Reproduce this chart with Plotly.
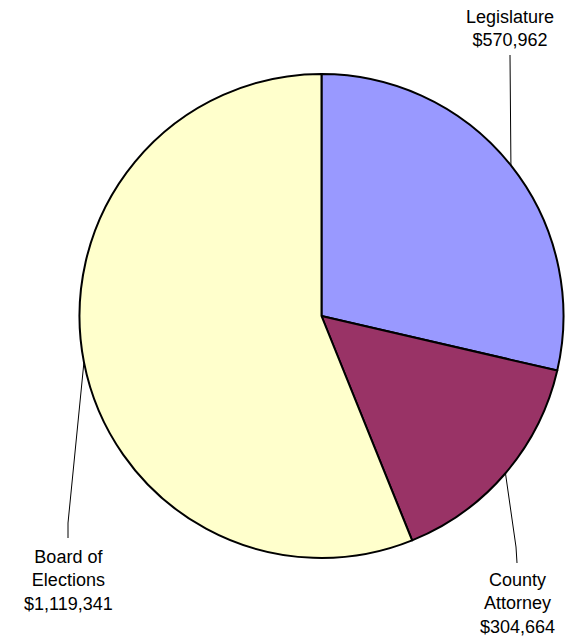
import math
import plotly.graph_objects as go

# Budget by department
departments = ["Legislature", "County Attorney", "Board of Elections"]
amounts = [570962, 304664, 1119341]
label_lines = [["Legislature"], ["County", "Attorney"], ["Board of", "Elections"]]
colors = ["#9999FF", "#993366", "#FFFFCC"]

W, H = 577, 639
CX, CY, R = 321.5, 316.0, 242.0   # pie centre and radius in pixels

# label block centres and leader-line bends (pixels)
label_pos = [(510, 29), (517, 603), (68, 580)]
leader_bends = [[(510, 55)], [(516, 547), (517, 563)], [(68, 523), (68, 538)]]


def px(x):
    return x / W


def py(y):
    return 1 - y / H


fig = go.Figure(
    go.Pie(
        labels=departments,
        values=amounts,
        sort=False,
        direction="clockwise",
        rotation=0,
        marker=dict(colors=colors, line=dict(color="black", width=2)),
        textinfo="none",
        hoverinfo="label+value",
        showlegend=False,
        domain=dict(x=[px(CX - R), px(CX + R)], y=[py(CY + R), py(CY - R)]),
    )
)

total = sum(amounts)
start = 0.0
shapes, annotations = [], []
for i, v in enumerate(amounts):
    frac = v / total
    mid = (start + frac / 2) * 2 * math.pi
    start += frac
    x0 = CX + R * math.sin(mid)
    y0 = CY - R * math.cos(mid)
    pts = [(x0, y0)] + leader_bends[i]
    path = "M " + " L ".join(f"{px(x)},{py(y)}" for x, y in pts)
    shapes.append(dict(type="path", xref="paper", yref="paper", path=path,
                       line=dict(color="black", width=1)))
    text = "<br>".join(label_lines[i] + [f"${v:,}"])
    lx, ly = label_pos[i]
    annotations.append(dict(x=px(lx), y=py(ly), xref="paper", yref="paper",
                            text=text, showarrow=False, xanchor="center",
                            yanchor="middle", align="center",
                            font=dict(family="Liberation Sans, Arial", size=18,
                                      color="black")))

fig.update_layout(
    width=W, height=H,
    margin=dict(l=0, r=0, t=0, b=0),
    paper_bgcolor="white",
    plot_bgcolor="white",
    shapes=shapes,
    annotations=annotations,
)

fig.write_html("out.html")
